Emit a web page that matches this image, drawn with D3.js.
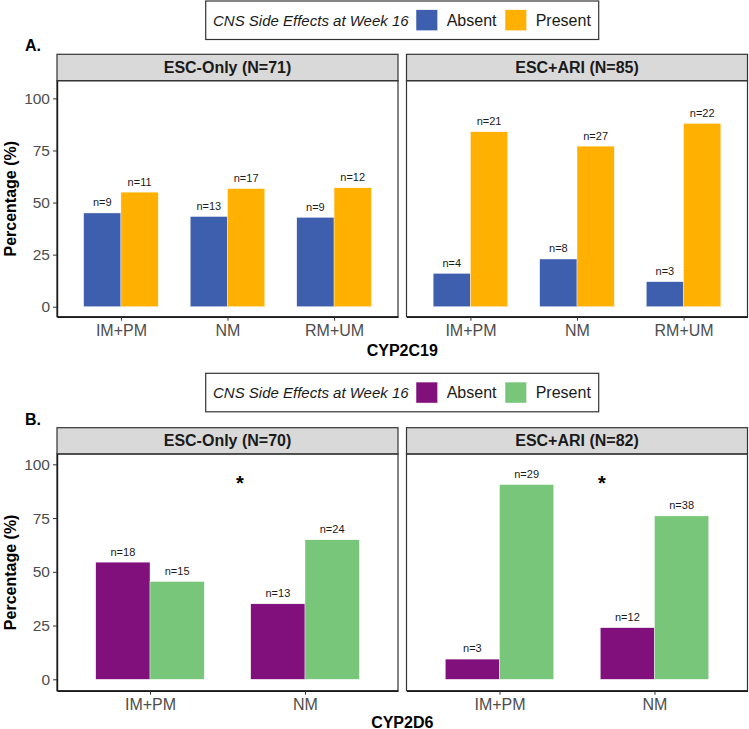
<!DOCTYPE html>
<html><head><meta charset="utf-8">
<script src="https://cdn.jsdelivr.net/npm/d3@7"></script>
<style>
html,body{margin:0;padding:0;background:#fff;}
svg{display:block;font-family:"Liberation Sans",Arial,Helvetica,sans-serif;}
</style></head>
<body><svg id="chart" width="749" height="729"></svg>
<script>
// ---------- data ----------
const legendTitle = "CNS Side Effects at Week 16";
const seriesNames = ["Absent", "Present"];
const yTicks = [0, 25, 50, 75, 100];

// Panel A: CYP2C19
const groupsA = ["ESC-Only (N=71)", "ESC+ARI (N=85)"];
const catsA = ["IM+PM", "NM", "RM+UM"];
const absentA = [[45.0, 43.3, 42.9], [16.0, 22.9, 12.0]];
const presentA = [[55.0, 56.7, 57.1], [84.0, 77.1, 88.0]];
const nAbsentA = [[9, 13, 9], [4, 8, 3]];
const nPresentA = [[11, 17, 12], [21, 27, 22]];
const colorsA = ["#3d5fad", "#ffb000"];

// Panel B: CYP2D6
const groupsB = ["ESC-Only (N=70)", "ESC+ARI (N=82)"];
const catsB = ["IM+PM", "NM"];
const absentB = [[54.5, 35.1], [9.4, 24.0]];
const presentB = [[45.5, 64.9], [90.6, 76.0]];
const nAbsentB = [[18, 13], [3, 12]];
const nPresentB = [[15, 24], [29, 38]];
const colorsB = ["#810f7c", "#78c679"];
// significance markers (panel index, category-axis position, y value)
const starsB = [{panel: 0, pos: 1.58, y: 93.3}, {panel: 1, pos: 1.66, y: 93.3}];

// ---------- drawing ----------
const svg = d3.select("#chart");
const font = '"Liberation Sans",Arial,Helvetica,sans-serif';

function drawLegend(top, colors) {
  const g = svg.append("g");
  const left = 205.7, right = 598.7, h = 38.5;
  const cy = top + h / 2;
  g.append("rect").attr("x", left).attr("y", top).attr("width", right - left).attr("height", h)
    .attr("fill", "#fff").attr("stroke", "#333").attr("stroke-width", 1.2);
  g.append("text").attr("x", 213).attr("y", cy + 5.4).attr("font-size", 15).attr("font-style", "italic")
    .attr("fill", "#1a1a1a").text(legendTitle);
  const keyX = [416, 505], textX = [446.7, 535.7];
  seriesNames.forEach((s, i) => {
    g.append("rect").attr("x", keyX[i]).attr("y", cy - 10.5).attr("width", 21.7).attr("height", 21)
      .attr("fill", colors[i]).attr("stroke", "#fff").attr("stroke-width", 0.5);
    g.append("text").attr("x", textX[i]).attr("y", cy + 5.8).attr("font-size", 16)
      .attr("fill", "#1a1a1a").text(s);
  });
}

function drawPanelSet(cfg) {
  const {label, labelY, stripTop, stripBot, plotBot, yDomain, groups, cats, absent, present, nAbs, nPres, colors, xTitle, xTitleY, stars} = cfg;
  const panelsX = [[57, 398], [406.5, 747.5]];
  svg.append("text").attr("x", 25).attr("y", labelY).attr("font-size", 16).attr("font-weight", "bold")
    .attr("fill", "#000").text(label);
  const y = d3.scaleLinear().domain(yDomain).range([plotBot, stripBot]);
  groups.forEach((grp, p) => {
    const [x0, x1] = panelsX[p];
    const x = d3.scaleLinear().domain([0.4, cats.length + 0.6]).range([x0, x1]);
    const g = svg.append("g");
    // strip
    g.append("rect").attr("x", x0).attr("y", stripTop).attr("width", x1 - x0).attr("height", stripBot - stripTop)
      .attr("fill", "#d9d9d9").attr("stroke", "#333").attr("stroke-width", 1.2);
    g.append("text").attr("x", (x0 + x1) / 2).attr("y", (stripTop + stripBot) / 2 + 5.6)
      .attr("text-anchor", "middle").attr("font-size", 16).attr("font-weight", "bold").attr("fill", "#1a1a1a").text(grp);
    // bars
    const rows = [];
    cats.forEach((c, i) => {
      rows.push({s: 0, c: i, v: absent[p][i], n: nAbs[p][i]});
      rows.push({s: 1, c: i, v: present[p][i], n: nPres[p][i]});
    });
    const bw = 0.35;
    g.selectAll("rect.bar").data(rows).join("rect").attr("class", "bar")
      .attr("x", d => x(d.c + 1 + (d.s === 0 ? -bw : 0)))
      .attr("width", d => x(d.c + 1 + bw) - x(d.c + 1))
      .attr("y", d => y(d.v)).attr("height", d => y(0) - y(d.v))
      .attr("fill", d => colors[d.s]).attr("stroke", "#fff").attr("stroke-width", 0.4);
    g.selectAll("text.nlab").data(rows).join("text").attr("class", "nlab")
      .attr("x", d => x(d.c + 1 + (d.s === 0 ? -bw / 2 : bw / 2)))
      .attr("y", d => y(d.v) - 6.6).attr("text-anchor", "middle").attr("font-size", 11)
      .attr("fill", "#1a1a1a").text(d => "n=" + d.n);
    // stars
    (stars || []).filter(s => s.panel === p).forEach(s => {
      g.append("text").attr("x", x(s.pos)).attr("y", y(s.y) + 11.5).attr("text-anchor", "middle")
        .attr("font-size", 20).attr("font-weight", "bold").attr("fill", "#000").text("*");
    });
    // panel border
    g.append("rect").attr("x", x0).attr("y", stripBot).attr("width", x1 - x0).attr("height", plotBot - stripBot)
      .attr("fill", "none").attr("stroke", "#333").attr("stroke-width", 1.2);
    // x axis
    const xa = g.append("g").attr("transform", `translate(0,${plotBot})`)
      .call(d3.axisBottom(x).tickValues(cats.map((c, i) => i + 1)).tickFormat((d) => cats[d - 1])
        .tickSize(4).tickSizeOuter(0).tickPadding(3));
    xa.select(".domain").attr("stroke", "#1a1a1a").attr("stroke-width", 1.4);
    xa.selectAll(".tick line").attr("stroke", "#333");
    xa.selectAll(".tick text").attr("font-size", 16).attr("fill", "#4d4d4d").attr("font-family", font)
      .attr("dy", null).attr("y", 19.3);
    // y axis
    if (p === 0) {
      const ya = g.append("g").attr("transform", `translate(${x0},0)`)
        .call(d3.axisLeft(y).tickValues(yTicks).tickSize(4).tickSizeOuter(0).tickPadding(3));
      ya.select(".domain").attr("stroke", "#1a1a1a").attr("stroke-width", 1.4);
      ya.selectAll(".tick line").attr("stroke", "#333");
      ya.selectAll(".tick text").attr("font-size", 15.5).attr("fill", "#4d4d4d").attr("font-family", font);
      g.append("text").attr("transform", `translate(15.5,${(stripBot + plotBot) / 2}) rotate(-90)`)
        .attr("text-anchor", "middle").attr("font-size", 16).attr("font-weight", "bold").attr("fill", "#000")
        .text("Percentage (%)");
    }
  });
  svg.append("text").attr("x", (panelsX[0][0] + panelsX[1][1]) / 2).attr("y", xTitleY).attr("text-anchor", "middle")
    .attr("font-size", 16).attr("font-weight", "bold").attr("fill", "#000").text(xTitle);
}

drawLegend(1, colorsA);
drawPanelSet({label: "A.", labelY: 51, stripTop: 54.3, stripBot: 80.7, plotBot: 316.7, yDomain: [-4.8, 108.5],
  groups: groupsA, cats: catsA, absent: absentA, present: presentA, nAbs: nAbsentA, nPres: nPresentA,
  colors: colorsA, xTitle: "CYP2C19", xTitleY: 356});
drawLegend(373.3, colorsB);
drawPanelSet({label: "B.", labelY: 424.5, stripTop: 427.7, stripBot: 454, plotBot: 690.7, yDomain: [-5.3, 104.8],
  groups: groupsB, cats: catsB, absent: absentB, present: presentB, nAbs: nAbsentB, nPres: nPresentB,
  colors: colorsB, xTitle: "CYP2D6", xTitleY: 727.5, stars: starsB});
</script></body></html>
